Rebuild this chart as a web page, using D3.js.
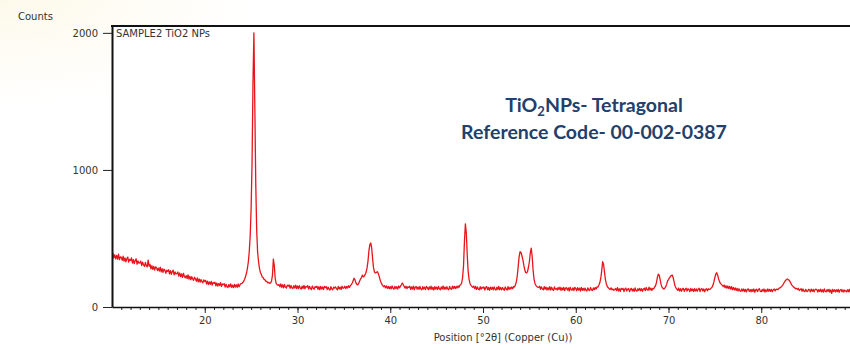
<!DOCTYPE html>
<html>
<head>
<meta charset="utf-8">
<script src="https://cdn.jsdelivr.net/npm/d3@7"></script>
<style>
  html, body { margin: 0; padding: 0; background: #fff; }
  svg { display: block; }
</style>
</head>
<body>
<svg id="chart" width="850" height="350"></svg>
<script>
// Scan settings: start angle and step size in °2θ
const scanStart = 10.0;
const scanStep = 0.1;

// Measured intensities (counts), one row per degree: x.0 … x.9
const counts = [
  372,390,358,381,352,376,349,385,345,366, // 10
  362,340,371,335,358,330,352,364,328,347, // 11
  340,358,321,345,316,338,352,312,336,320, // 12
  322,335,303,327,308,296,325,300,294,342, // 13
  298,310,279,302,275,296,270,293,287,266, // 14
  284,262,290,256,280,253,276,268,246,268, // 15
  260,272,242,265,238,259,268,234,256,241, // 16
  243,255,225,248,221,242,216,246,224,213, // 17
  229,207,235,203,224,199,221,205,194,217, // 18
  206,188,213,184,204,181,200,185,177,198, // 19
  186,193,168,189,163,183,166,187,160,179, // 20
  172,181,154,175,152,171,157,177,150,168, // 21
  163,170,145,166,148,142,164,147,169,144, // 22
  159,141,165,145,162,143,168,147,163,170, // 23
  172,178,188,203,222,248,282,330,405,520, // 24
  720,1050,1640,2000,1450,900,560,400,330,282, // 25
  252,238,219,214,201,198,187,186,176,179, // 26
  172,176,188,232,350,298,205,172,163,158, // 27
  165,147,168,143,162,140,164,145,139,159, // 28
  152,161,136,157,140,134,155,138,160,135, // 29
  153,134,156,138,131,152,135,157,133,150, // 30
  146,155,131,151,134,128,153,137,130,149, // 31
  143,152,129,148,126,150,132,146,128,151, // 32
  141,149,127,145,130,124,148,132,126,145, // 33
  139,147,132,125,150,131,145,128,152,136, // 34
  140,151,134,150,139,155,143,156,162,175, // 35
  192,210,198,176,165,162,172,190,205,215, // 36
  233,220,225,238,255,285,335,410,455,467, // 37
  430,350,285,255,248,252,258,246,225,200, // 38
  180,165,155,148,156,139,153,136,150,133, // 39
  149,132,154,136,130,151,134,148,131,153, // 40
  140,152,162,175,164,150,138,151,134,148, // 41
  143,151,128,147,131,152,126,145,149,130, // 42
  146,129,150,132,125,148,131,145,127,151, // 43
  142,126,147,130,152,128,144,124,149,131, // 44
  145,128,150,133,126,147,131,153,129,145, // 45
  130,148,132,125,150,134,129,152,135,151, // 46
  134,150,138,154,142,158,162,175,215,300, // 47
  480,606,540,380,260,200,172,158,150,143, // 48
  153,134,150,128,146,131,125,148,130,144, // 49
  138,146,123,142,149,126,143,121,145,129, // 50
  144,125,147,130,123,145,128,150,126,142, // 51
  125,143,129,122,146,131,124,148,127,143, // 52
  131,146,134,150,146,162,185,230,300,370, // 53
  404,398,372,345,305,272,252,248,258,290, // 54
  330,395,430,370,270,205,172,158,150,145, // 55
  143,151,129,147,132,125,149,130,145,123, // 56
  141,126,148,123,144,128,121,146,130,135, // 57
  124,142,127,145,121,140,124,143,119,138, // 58
  141,123,139,117,144,126,122,140,120,143, // 59
  135,119,141,123,138,116,143,122,136,120, // 60
  138,122,117,140,124,119,142,125,121,139, // 61
  127,142,131,147,146,160,178,210,265,331, // 62
  310,255,200,168,150,140,134,128,140,126, // 63
  132,122,126,135,120,141,117,133,114,136, // 64
  129,135,113,132,138,116,131,134,112,130, // 65
  136,117,132,114,139,119,115,133,121,136, // 66
  118,134,115,131,137,119,142,125,122,145, // 67
  124,138,121,135,132,146,155,178,215,240, // 68
  232,200,165,145,136,131,138,148,165,190, // 69
  200,212,222,230,233,215,185,155,140,131, // 70
  121,138,117,134,115,132,136,114,130,137, // 71
  116,133,129,112,135,118,131,113,134,117, // 72
  132,115,130,137,113,129,134,116,132,111, // 73
  128,134,118,132,129,131,138,145,160,185, // 74
  215,240,250,232,205,185,172,165,158,150, // 75
  160,141,155,137,153,134,150,131,148,126, // 76
  143,125,139,121,136,117,133,119,114,132, // 77
  116,131,113,129,110,128,132,114,127,111, // 78
  129,113,131,108,125,130,112,127,133,114, // 79
  112,128,115,131,109,126,113,132,115,129, // 80
  114,128,112,126,131,118,129,130,126,137, // 81
  138,144,150,158,170,182,192,198,205,200, // 82
  196,185,172,160,152,145,140,133,136,128, // 83
  136,120,127,133,114,131,116,112,129,115, // 84
  113,129,126,110,131,114,128,111,126,130, // 85
  125,109,127,113,130,111,126,108,132,114, // 86
  111,127,114,129,108,125,99,128,113,126,  // 87
  110,126,112,129,107,124,128,111,125,109, // 88
  123,117,110,126,112,129,108,125,111,127, // 89
  119                                      // 90
];

const xMajorTicks = [20, 30, 40, 50, 60, 70, 80];
const yTicks = [0, 1000, 2000];
const sampleName = "SAMPLE2 TiO2 NPs";
const yTitle = "Counts";
const xTitle = "Position [°2θ] (Copper (Cu))";
const phaseName = ["TiO", "2", "NPs- Tetragonal"];
const referenceCode = "Reference Code- 00-002-0387";

const svg = d3.select("#chart");
const W = 850, H = 350;
const plot = { left: 112, right: 854, top: 26, bottom: 307 };

// faint warm tint in the upper-left corner of the page
const defs = svg.append("defs");
const grad = defs.append("radialGradient")
  .attr("id", "tint").attr("cx", 0).attr("cy", 0).attr("r", 0.3)
  .attr("gradientUnits", "objectBoundingBox");
grad.append("stop").attr("offset", 0).attr("stop-color", "#fdf9ea");
grad.append("stop").attr("offset", 1).attr("stop-color", "#ffffff");
svg.append("rect").attr("width", W).attr("height", H).attr("fill", "url(#tint)");
svg.append("rect")
  .attr("x", plot.left).attr("y", plot.top)
  .attr("width", plot.right - plot.left).attr("height", plot.bottom - plot.top)
  .attr("fill", "#fff");

defs.append("clipPath").attr("id", "plotClip")
  .append("rect")
  .attr("x", plot.left).attr("y", plot.top - 1)
  .attr("width", plot.right - plot.left).attr("height", plot.bottom - plot.top + 1);

const x = d3.scaleLinear().domain([10, 90]).range([plot.left, plot.right]);
const y = d3.scaleLinear().domain([0, 2050]).range([plot.bottom, plot.top]);

const points = counts.map((c, i) => [scanStart + i * scanStep, c]);

const line = d3.line()
  .x(d => x(d[0]))
  .y(d => y(d[1]));

svg.append("path")
  .datum(points)
  .attr("clip-path", "url(#plotClip)")
  .attr("fill", "none")
  .attr("stroke", "#e8141c")
  .attr("stroke-width", 1.3)
  .attr("stroke-linejoin", "round")
  .attr("d", line);

const fontFamily = "'DejaVu Sans', 'Noto Sans', sans-serif";
const fontSize = 10;

// x axis: minor ticks every degree, labelled majors every ten
svg.append("g")
  .attr("transform", `translate(0,${plot.bottom})`)
  .call(d3.axisBottom(x).tickValues(d3.range(11, 90)).tickSize(3).tickSizeOuter(0).tickFormat(""))
  .call(g => g.select(".domain").remove())
  .call(g => g.selectAll("line").attr("stroke", "#222"));

const xAxis = svg.append("g")
  .attr("transform", `translate(0,${plot.bottom})`)
  .call(d3.axisBottom(x).tickValues(xMajorTicks).tickSize(6).tickSizeOuter(0).tickPadding(4));
xAxis.select(".domain").attr("stroke", "#111").attr("stroke-width", 1.6);
xAxis.selectAll("line").attr("stroke", "#222");
xAxis.selectAll("text").attr("font-family", fontFamily).attr("font-size", fontSize).attr("fill", "#333");

// y axis
const yAxis = svg.append("g")
  .attr("transform", `translate(${plot.left},0)`)
  .call(d3.axisLeft(y).tickValues(yTicks).tickFormat(d3.format("d"))
    .tickSize(9).tickSizeOuter(0).tickPadding(5));
yAxis.select(".domain").attr("stroke", "#111").attr("stroke-width", 2);
yAxis.selectAll("line").attr("stroke", "#222");
yAxis.selectAll("text").attr("font-family", fontFamily).attr("font-size", fontSize).attr("fill", "#333");

// top frame edge
svg.append("line")
  .attr("x1", plot.left - 1).attr("x2", plot.right)
  .attr("y1", plot.top).attr("y2", plot.top)
  .attr("stroke", "#111").attr("stroke-width", 2);

// titles
svg.append("text")
  .attr("x", 18).attr("y", 20)
  .attr("font-family", fontFamily).attr("font-size", fontSize).attr("fill", "#333")
  .text(yTitle);

svg.append("text")
  .attr("x", 503).attr("y", 341)
  .attr("text-anchor", "middle")
  .attr("font-family", fontFamily).attr("font-size", fontSize).attr("fill", "#333")
  .text(xTitle);

svg.append("text")
  .attr("x", plot.left + 4).attr("y", plot.top + 11)
  .attr("font-family", fontFamily).attr("font-size", fontSize).attr("fill", "#333")
  .text(sampleName);

// phase annotation
const noteFont = "Lato, 'Open Sans', sans-serif";
const noteSize = 19.5;
const note1 = svg.append("text")
  .attr("x", 594).attr("y", 112)
  .attr("text-anchor", "middle")
  .attr("font-family", noteFont).attr("font-weight", 700)
  .attr("font-size", noteSize).attr("fill", "#22406a");
note1.append("tspan").text(phaseName[0]);
note1.append("tspan").attr("font-size", 13).attr("dy", 4).text(phaseName[1]);
note1.append("tspan").attr("dy", -4).text(phaseName[2]);

svg.append("text")
  .attr("x", 594).attr("y", 139)
  .attr("text-anchor", "middle")
  .attr("font-family", noteFont).attr("font-weight", 700)
  .attr("font-size", noteSize).attr("fill", "#22406a")
  .text(referenceCode);
</script>
</body>
</html>
